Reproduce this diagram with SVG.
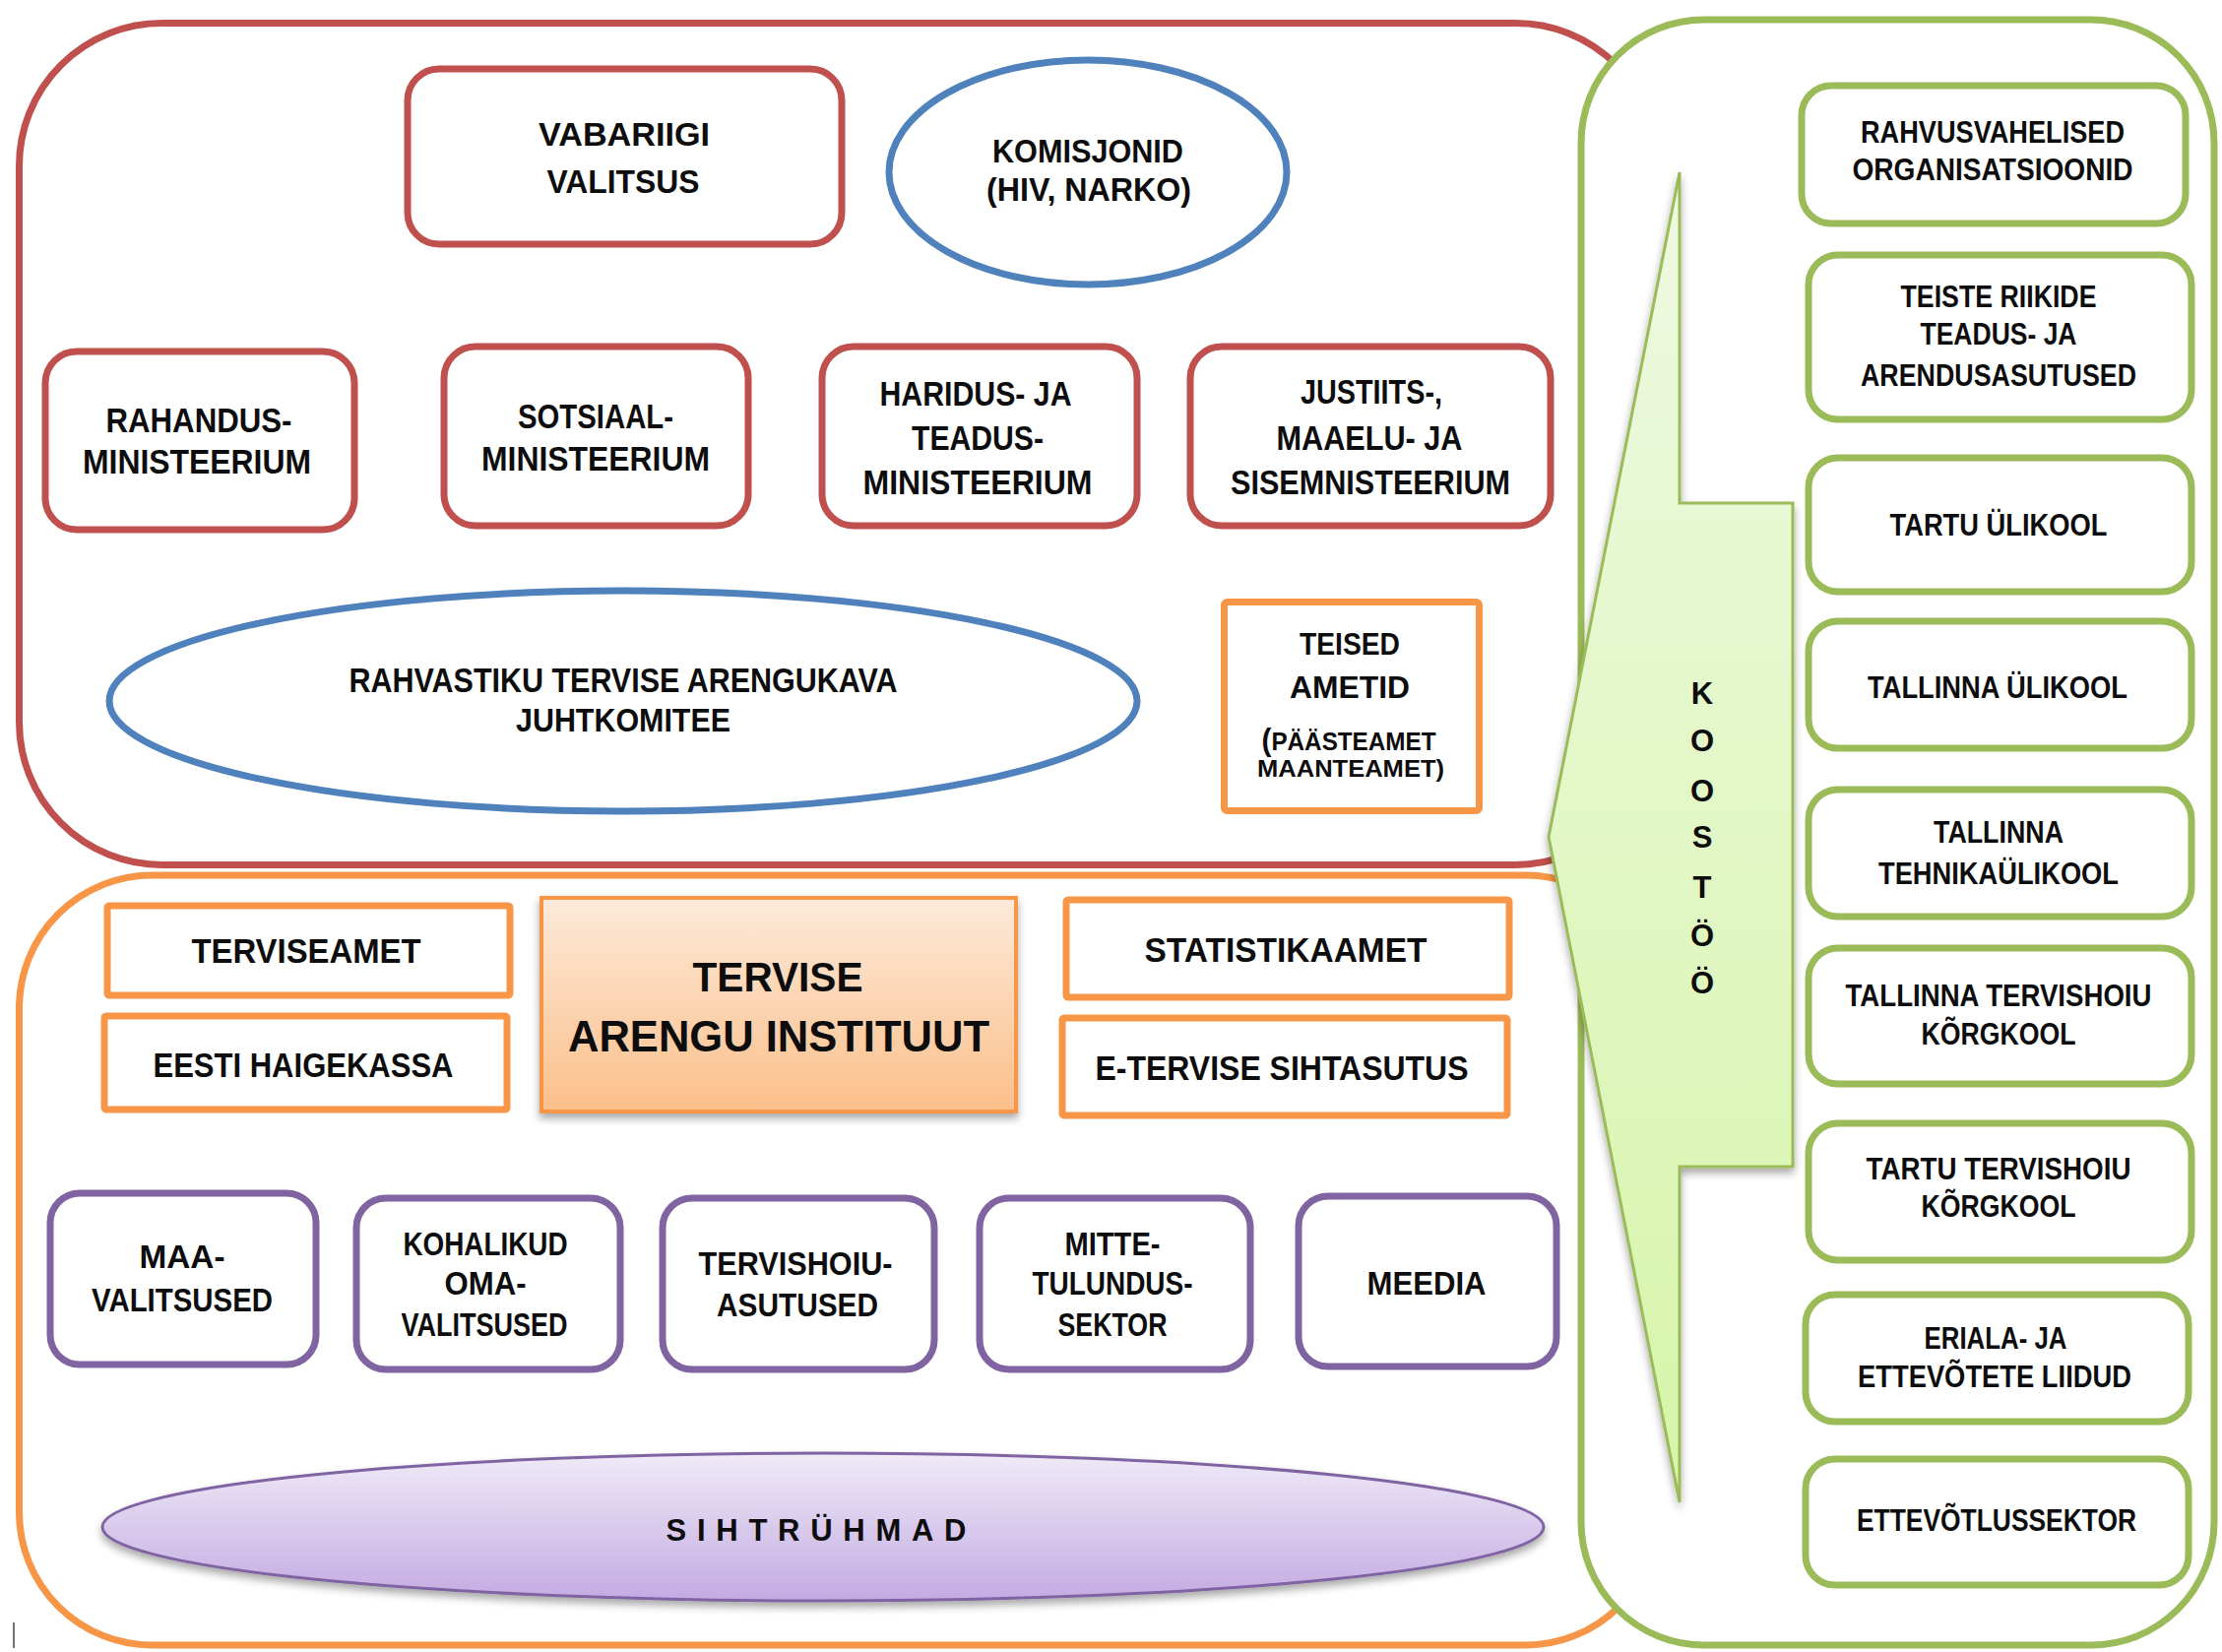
<svg xmlns="http://www.w3.org/2000/svg" width="2257" height="1678" viewBox="0 0 2257 1678">
<defs>
<style>
.t{font-family:"Liberation Sans",Arial,sans-serif;font-weight:bold;fill:#0d0d0d;text-anchor:middle}
.red{fill:#fff;stroke:#C0504D;stroke-width:7}
.blue{fill:#fff;stroke:#4F81BD;stroke-width:7}
.org{fill:#fff;stroke:#F79646;stroke-width:7}
.pur{fill:#fff;stroke:#8064A2;stroke-width:7}
.grn{fill:#fff;stroke:#9BBB59;stroke-width:7}
</style>
<linearGradient id="gOrange" x1="0" y1="0" x2="0" y2="1">
<stop offset="0" stop-color="#FDEADB"/><stop offset="1" stop-color="#FBBF8A"/>
</linearGradient>
<linearGradient id="gPurple" x1="0" y1="0" x2="0" y2="1">
<stop offset="0" stop-color="#EFEAF7"/><stop offset="1" stop-color="#C3ABE2"/>
</linearGradient>
<linearGradient id="gGreen" x1="0" y1="0" x2="0" y2="1">
<stop offset="0" stop-color="#EEF9E2"/><stop offset="1" stop-color="#D6F5A9"/>
</linearGradient>
<filter id="shadow" x="-10%" y="-10%" width="120%" height="130%">
<feDropShadow dx="0" dy="5" stdDeviation="4" flood-color="#000" flood-opacity="0.35"/>
</filter>
</defs>
<rect x="0" y="0" width="2257" height="1678" fill="#fff"/>

<g id="containers">
<rect id="red-container" x="19.5" y="23.5" width="1665" height="855" rx="145" ry="145" fill="#fff" stroke="#C0504D" stroke-width="7"/>
<rect id="orange-container" x="19.5" y="889" width="1665" height="782" rx="135" ry="135" fill="#fff" stroke="#F79646" stroke-width="7"/>
<rect id="green-container" x="1606" y="20" width="643" height="1651" rx="125" ry="125" fill="#fff" stroke="#9BBB59" stroke-width="7"/>
</g>

<g id="vabariigi-valitsus">
<rect class="red" x="414" y="70" width="441" height="178" rx="32"/>
<text class="t" font-size="34" x="634" y="148" textLength="174" lengthAdjust="spacingAndGlyphs">VABARIIGI</text>
<text class="t" font-size="34" x="633" y="196" textLength="155" lengthAdjust="spacingAndGlyphs">VALITSUS</text>
</g>

<g id="komisjonid">
<ellipse class="blue" cx="1105" cy="175" rx="202" ry="114"/>
<text class="t" font-size="33" x="1105" y="165" textLength="194" lengthAdjust="spacingAndGlyphs">KOMISJONID</text>
<text class="t" font-size="33" x="1106" y="204" textLength="208" lengthAdjust="spacingAndGlyphs">(HIV, NARKO)</text>
</g>

<g id="rahandusministeerium">
<rect class="red" x="46" y="357" width="314" height="181" rx="32"/>
<text class="t" font-size="35" x="202" y="439" textLength="189" lengthAdjust="spacingAndGlyphs">RAHANDUS-</text>
<text class="t" font-size="35" x="200" y="481" textLength="232" lengthAdjust="spacingAndGlyphs">MINISTEERIUM</text>
</g>

<g id="sotsiaalministeerium">
<rect class="red" x="451" y="352" width="309" height="182" rx="32"/>
<text class="t" font-size="35" x="605" y="435" textLength="158" lengthAdjust="spacingAndGlyphs">SOTSIAAL-</text>
<text class="t" font-size="35" x="605" y="478" textLength="232" lengthAdjust="spacingAndGlyphs">MINISTEERIUM</text>
</g>

<g id="haridusministeerium">
<rect class="red" x="835" y="352" width="320" height="182" rx="32"/>
<text class="t" font-size="35" x="991" y="412" textLength="195" lengthAdjust="spacingAndGlyphs">HARIDUS- JA</text>
<text class="t" font-size="35" x="993" y="457" textLength="134" lengthAdjust="spacingAndGlyphs">TEADUS-</text>
<text class="t" font-size="35" x="993" y="502" textLength="233" lengthAdjust="spacingAndGlyphs">MINISTEERIUM</text>
</g>

<g id="justiitsministeerium">
<rect class="red" x="1209" y="352" width="366" height="182" rx="32"/>
<text class="t" font-size="35" x="1393" y="410" textLength="144" lengthAdjust="spacingAndGlyphs">JUSTIITS-,</text>
<text class="t" font-size="35" x="1391" y="457" textLength="189" lengthAdjust="spacingAndGlyphs">MAAELU- JA</text>
<text class="t" font-size="35" x="1392" y="502" textLength="284" lengthAdjust="spacingAndGlyphs">SISEMNISTEERIUM</text>
</g>

<g id="juhtkomitee">
<ellipse class="blue" cx="633" cy="712" rx="522" ry="112"/>
<text class="t" font-size="35" x="633" y="703" textLength="557" lengthAdjust="spacingAndGlyphs">RAHVASTIKU TERVISE ARENGUKAVA</text>
<text class="t" font-size="34" x="633" y="743" textLength="218" lengthAdjust="spacingAndGlyphs">JUHTKOMITEE</text>
</g>

<g id="teised-ametid">
<rect class="org" x="1243.5" y="611.5" width="259" height="212" rx="3"/>
<text class="t" font-size="31" x="1371" y="665" textLength="102" lengthAdjust="spacingAndGlyphs">TEISED</text>
<text class="t" font-size="31" x="1371" y="709" textLength="122" lengthAdjust="spacingAndGlyphs">AMETID</text>
<text class="t" font-size="26" x="1370" y="762" textLength="177" lengthAdjust="spacingAndGlyphs"><tspan font-size="32">(</tspan>PÄÄSTEAMET</text>
<text class="t" font-size="24" x="1372" y="789" textLength="190" lengthAdjust="spacingAndGlyphs">MAANTEAMET)</text>
</g>

<g id="terviseamet">
<rect class="org" x="109" y="920" width="409" height="91" rx="2"/>
<text class="t" font-size="35" x="311" y="978" textLength="233" lengthAdjust="spacingAndGlyphs">TERVISEAMET</text>
</g>

<g id="eesti-haigekassa">
<rect class="org" x="106" y="1032" width="409" height="95" rx="2"/>
<text class="t" font-size="35" x="308" y="1094" textLength="305" lengthAdjust="spacingAndGlyphs">EESTI HAIGEKASSA</text>
</g>

<g id="tervise-arengu-instituut">
<rect x="550" y="912" width="482" height="217" fill="url(#gOrange)" stroke="#F79646" stroke-width="4" filter="url(#shadow)"/>
<text class="t" font-size="43" x="790" y="1007" textLength="173" lengthAdjust="spacingAndGlyphs">TERVISE</text>
<text class="t" font-size="44" x="791" y="1068" textLength="428" lengthAdjust="spacingAndGlyphs">ARENGU INSTITUUT</text>
</g>

<g id="statistikaamet">
<rect class="org" x="1083" y="914" width="450" height="99" rx="2"/>
<text class="t" font-size="35" x="1306" y="977" textLength="287" lengthAdjust="spacingAndGlyphs">STATISTIKAAMET</text>
</g>

<g id="e-tervise-sihtasutus">
<rect class="org" x="1079" y="1034" width="452" height="99" rx="2"/>
<text class="t" font-size="35" x="1302" y="1097" textLength="379" lengthAdjust="spacingAndGlyphs">E-TERVISE SIHTASUTUS</text>
</g>

<g id="maavalitsused">
<rect class="pur" x="51" y="1212" width="270" height="174" rx="30"/>
<text class="t" font-size="34" x="185" y="1288" textLength="87" lengthAdjust="spacingAndGlyphs">MAA-</text>
<text class="t" font-size="34" x="185" y="1332" textLength="184" lengthAdjust="spacingAndGlyphs">VALITSUSED</text>
</g>

<g id="kohalikud-omavalitsused">
<rect class="pur" x="362" y="1217" width="268" height="174" rx="30"/>
<text class="t" font-size="33" x="493" y="1275" textLength="167" lengthAdjust="spacingAndGlyphs">KOHALIKUD</text>
<text class="t" font-size="33" x="493" y="1315" textLength="83" lengthAdjust="spacingAndGlyphs">OMA-</text>
<text class="t" font-size="33" x="492" y="1357" textLength="169" lengthAdjust="spacingAndGlyphs">VALITSUSED</text>
</g>

<g id="tervishoiuasutused">
<rect class="pur" x="673" y="1217" width="276" height="174" rx="30"/>
<text class="t" font-size="34" x="808" y="1295" textLength="197" lengthAdjust="spacingAndGlyphs">TERVISHOIU-</text>
<text class="t" font-size="34" x="810" y="1337" textLength="164" lengthAdjust="spacingAndGlyphs">ASUTUSED</text>
</g>

<g id="mittetulundussektor">
<rect class="pur" x="995" y="1217" width="275" height="174" rx="30"/>
<text class="t" font-size="33" x="1130" y="1275" textLength="97" lengthAdjust="spacingAndGlyphs">MITTE-</text>
<text class="t" font-size="33" x="1130" y="1315" textLength="163" lengthAdjust="spacingAndGlyphs">TULUNDUS-</text>
<text class="t" font-size="33" x="1130" y="1357" textLength="111" lengthAdjust="spacingAndGlyphs">SEKTOR</text>
</g>

<g id="meedia">
<rect class="pur" x="1319" y="1215" width="262" height="173" rx="30"/>
<text class="t" font-size="34" x="1449" y="1315" textLength="121" lengthAdjust="spacingAndGlyphs">MEEDIA</text>
</g>

<g id="sihtruhmad">
<ellipse cx="836" cy="1551" rx="732" ry="75" fill="url(#gPurple)" stroke="#8064A2" stroke-width="3" filter="url(#shadow)"/>
<text class="t" font-size="31" x="835" y="1565" textLength="317" lengthAdjust="spacing" letter-spacing="12">SIHTRÜHMAD</text>
</g>

<g id="koostoo">
<polygon points="1706,175 1706,511 1821,511 1821,1185 1706,1185 1706,1526 1573,850" fill="url(#gGreen)" stroke="#9BBB59" stroke-width="3" filter="url(#shadow)"/>
<text class="t" font-size="31" x="1729" y="715">K</text>
<text class="t" font-size="31" x="1729" y="763">O</text>
<text class="t" font-size="31" x="1729" y="814">O</text>
<text class="t" font-size="31" x="1729" y="861">S</text>
<text class="t" font-size="31" x="1729" y="912">T</text>
<text class="t" font-size="31" x="1729" y="961">Ö</text>
<text class="t" font-size="31" x="1729" y="1009">Ö</text>
</g>

<g id="rahvusvahelised-organisatsioonid">
<rect class="grn" x="1830" y="87" width="390" height="140" rx="30"/>
<text class="t" font-size="31" x="2024" y="145" textLength="268" lengthAdjust="spacingAndGlyphs">RAHVUSVAHELISED</text>
<text class="t" font-size="31" x="2024" y="183" textLength="285" lengthAdjust="spacingAndGlyphs">ORGANISATSIOONID</text>
</g>

<g id="teiste-riikide">
<rect class="grn" x="1837" y="259" width="389" height="167" rx="30"/>
<text class="t" font-size="31" x="2030" y="312" textLength="199" lengthAdjust="spacingAndGlyphs">TEISTE RIIKIDE</text>
<text class="t" font-size="31" x="2030" y="350" textLength="159" lengthAdjust="spacingAndGlyphs">TEADUS- JA</text>
<text class="t" font-size="31" x="2030" y="392" textLength="280" lengthAdjust="spacingAndGlyphs">ARENDUSASUTUSED</text>
</g>

<g id="tartu-ulikool">
<rect class="grn" x="1837" y="465" width="389" height="136" rx="30"/>
<text class="t" font-size="31" x="2030" y="544" textLength="221" lengthAdjust="spacingAndGlyphs">TARTU ÜLIKOOL</text>
</g>

<g id="tallinna-ulikool">
<rect class="grn" x="1837" y="631" width="389" height="129" rx="30"/>
<text class="t" font-size="31" x="2029" y="709" textLength="264" lengthAdjust="spacingAndGlyphs">TALLINNA ÜLIKOOL</text>
</g>

<g id="tallinna-tehnikaulikool">
<rect class="grn" x="1837" y="802" width="389" height="129" rx="30"/>
<text class="t" font-size="31" x="2030" y="856" textLength="132" lengthAdjust="spacingAndGlyphs">TALLINNA</text>
<text class="t" font-size="31" x="2030" y="898" textLength="244" lengthAdjust="spacingAndGlyphs">TEHNIKAÜLIKOOL</text>
</g>

<g id="tallinna-tervishoiu-korgkool">
<rect class="grn" x="1837" y="963" width="389" height="138" rx="30"/>
<text class="t" font-size="31" x="2030" y="1022" textLength="311" lengthAdjust="spacingAndGlyphs">TALLINNA TERVISHOIU</text>
<text class="t" font-size="31" x="2030" y="1061" textLength="157" lengthAdjust="spacingAndGlyphs">KÕRGKOOL</text>
</g>

<g id="tartu-tervishoiu-korgkool">
<rect class="grn" x="1837" y="1141" width="389" height="139" rx="30"/>
<text class="t" font-size="31" x="2030" y="1198" textLength="269" lengthAdjust="spacingAndGlyphs">TARTU TERVISHOIU</text>
<text class="t" font-size="31" x="2030" y="1236" textLength="157" lengthAdjust="spacingAndGlyphs">KÕRGKOOL</text>
</g>

<g id="eriala-liidud">
<rect class="grn" x="1834" y="1315" width="389" height="129" rx="30"/>
<text class="t" font-size="31" x="2027" y="1370" textLength="145" lengthAdjust="spacingAndGlyphs">ERIALA- JA</text>
<text class="t" font-size="31" x="2026" y="1409" textLength="278" lengthAdjust="spacingAndGlyphs">ETTEVÕTETE LIIDUD</text>
</g>

<g id="ettevotlussektor">
<rect class="grn" x="1834" y="1482" width="389" height="128" rx="30"/>
<text class="t" font-size="31" x="2028" y="1555" textLength="284" lengthAdjust="spacingAndGlyphs">ETTEVÕTLUSSEKTOR</text>
</g>

<g id="connectors"></g>

<line x1="14" y1="1648" x2="14" y2="1674" stroke="#444" stroke-width="1.5"/>
</svg>
